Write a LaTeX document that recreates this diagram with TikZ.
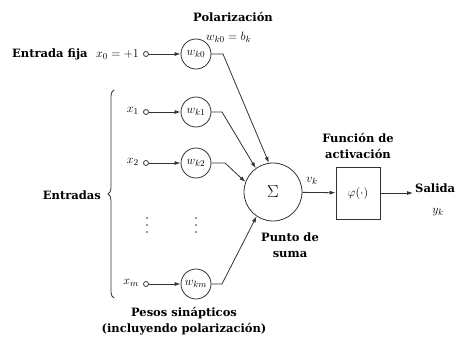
\documentclass[tikz,border=0pt]{standalone}
\usepackage{fontspec}
\setmainfont{DejaVu Serif}
\usetikzlibrary{arrows.meta,decorations.pathreplacing}
\definecolor{lnc}{HTML}{333333}
\begin{document}
\begin{tikzpicture}[x=1pt,y=-1pt,
  lbl/.style={font=\bfseries\fontsize{11.5}{16}\selectfont,inner sep=0pt},
  mth/.style={font=\fontsize{13}{15}\selectfont,inner sep=0pt},
  wnode/.style={circle,draw=lnc,line width=0.8pt,minimum size=30pt,inner sep=0pt,font=\fontsize{12.5}{14}\selectfont},
  inpt/.style={circle,draw=lnc,line width=0.8pt,minimum size=5pt,inner sep=0pt},
  arr/.style={draw=lnc,line width=0.8pt,-{Latex[length=6pt,width=4pt]}},
  con/.style={draw=lnc,line width=0.8pt},
  dotc/.style={fill=lnc}]
\useasboundingbox (0,0) rectangle (459,340);
% weight circles and inputs
\node[inpt] (i0) at (146,54) {};
\node[inpt] (i1) at (146,112) {};
\node[inpt] (i2) at (146,163) {};
\node[inpt] (im) at (146,284) {};
\node[wnode] (w0) at (196,54) {$w_{k0}$};
\node[wnode] (w1) at (196,112) {$w_{k1}$};
\node[wnode] (w2) at (196,163) {$w_{k2}$};
\node[wnode] (wm) at (196,284) {$w_{km}$};
% summing junction and activation
\node[circle,draw=lnc,line width=0.8pt,minimum size=58pt,inner sep=0pt,font=\fontsize{18}{20}\selectfont] (S) at (273,192) {$\Sigma$};
\node[draw=lnc,line width=0.8pt,minimum width=44pt,minimum height=52pt,inner sep=0pt,font=\fontsize{13}{15}\selectfont] (F) at (358,193) {$\varphi(\cdot)$};
\coordinate (out) at (413,193);
% turning points
\coordinate (t0) at (223,54);
\coordinate (t1) at (222,112);
\coordinate (t2) at (225,163);
\coordinate (tm) at (222,284);
% connectors
\draw[arr] (i0) -- (w0);
\draw[arr] (i1) -- (w1);
\draw[arr] (i2) -- (w2);
\draw[arr] (im) -- (wm);
\draw[arr] (w0) -- (t0) -- (S.98);
\draw[arr] (w1) -- (t1) -- (S.126);
\draw[arr] (w2) -- (t2) -- (S.160);
\draw[arr] (wm) -- (tm) -- (S.236);
\draw[arr] (S) -- (F);
\draw[arr] (F) -- (out);
% brace
\draw[con,decorate,decoration={brace,amplitude=6pt}] (114,298) -- (114,90);
% vertical dots
\foreach \xx in {147,196} {
  \foreach \yy in {218,225,232} {
    \fill[dotc] (\xx,\yy) circle (0.9pt);
  }
}
% labels
\node[lbl,anchor=west] (ef) at (12,54) {Entrada fija};
\node[mth,anchor=east] (x0) at (139,55) {$x_0=+1$};
\node[mth,anchor=east] (x1) at (139,111) {$x_1$};
\node[mth,anchor=east] (x2) at (139,162) {$x_2$};
\node[mth,anchor=east] (xm) at (139,283) {$x_m$};
\node[lbl,anchor=east] (ent) at (101,195) {Entradas};
\node[lbl,anchor=west] (pol) at (193,17) {Polarización};
\node[mth,anchor=west] (bk) at (206,37) {$w_{k0}=b_k$};
\node[mth] (vk) at (312,181) {$v_k$};
\node[lbl,align=center] (fa) at (358,146) {Función de\\activación};
\node[lbl,align=center] (ps) at (290,245) {Punto de\\suma};
\node[lbl,align=center] (pe) at (184,321) {Pesos sinápticos\\(incluyendo polarización)};
\node[lbl,anchor=west] (sal) at (415,188) {Salida};
\node[mth] (yk) at (438,212) {$y_k$};
\end{tikzpicture}
\end{document}
